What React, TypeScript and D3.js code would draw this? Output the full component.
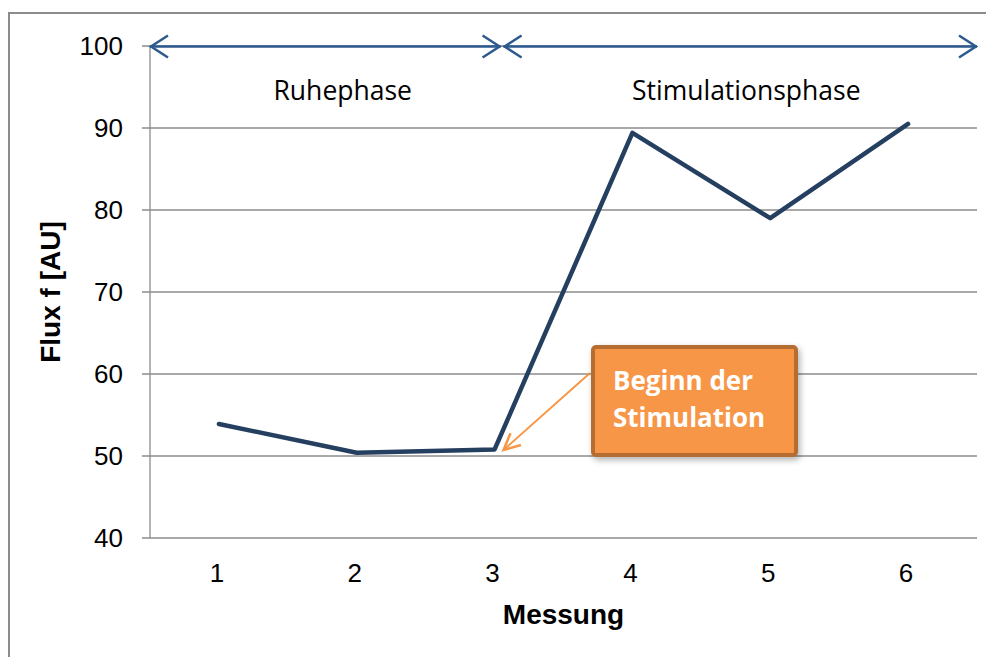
import React, { useEffect, useRef } from "react";
import * as d3 from "d3";

const categories = ["1", "2", "3", "4", "5", "6"];
const fluxValues = [53.9, 50.4, 50.8, 89.4, 79.0, 90.5];
const yTicks = [40, 50, 60, 70, 80, 90, 100];
const phases = [
  { label: "Ruhephase", from: 0, to: 2, labelAt: 1, labelShift: -14 },
  { label: "Stimulationsphase", from: 2, to: 5, labelAt: 4, labelShift: -24 },
];
const calloutLines = ["Beginn der", "Stimulation"];

const App = () => {
  const ref: any = useRef(null);
  const width = 986;
  const height = 657;
  const margin = { top: 46, right: 9, bottom: 119, left: 150 };

  useEffect(() => {
    const svg = d3.select(ref.current);
    svg.selectAll("*").remove();

    const x = d3
      .scaleBand()
      .domain(categories)
      .range([margin.left, width - margin.right]);
    const xc = (i: number) => (x(categories[i]) || 0) + x.bandwidth() / 2;
    const y = d3
      .scaleLinear()
      .domain([40, 100])
      .range([height - margin.bottom, margin.top]);

    const defs = svg.append("defs");
    const shadow = defs
      .append("filter")
      .attr("id", "shadow")
      .attr("x", "-20%")
      .attr("y", "-20%")
      .attr("width", "140%")
      .attr("height", "140%");
    shadow
      .append("feDropShadow")
      .attr("dx", 2)
      .attr("dy", 3)
      .attr("stdDeviation", 3)
      .attr("flood-color", "#000")
      .attr("flood-opacity", 0.3);

    // outer frame
    svg
      .append("rect")
      .attr("x", 9)
      .attr("y", 13)
      .attr("width", width + 20)
      .attr("height", height + 20)
      .attr("fill", "none")
      .attr("stroke", "#8c8c8c")
      .attr("stroke-width", 2);

    // gridlines
    svg
      .append("g")
      .selectAll("line")
      .data(yTicks)
      .join("line")
      .attr("x1", margin.left - 8)
      .attr("x2", width - margin.right)
      .attr("y1", (d) => y(d))
      .attr("y2", (d) => y(d))
      .attr("stroke", "#8c8c8c")
      .attr("stroke-width", 1.3);

    // y axis line
    svg
      .append("line")
      .attr("x1", margin.left)
      .attr("x2", margin.left)
      .attr("y1", y(100))
      .attr("y2", y(40))
      .attr("stroke", "#8c8c8c")
      .attr("stroke-width", 1.3);

    // y labels
    svg
      .append("g")
      .selectAll("text")
      .data(yTicks)
      .join("text")
      .attr("x", 123)
      .attr("y", (d) => y(d) + 9)
      .attr("text-anchor", "end")
      .attr("font-family", "Liberation Sans, Arial, sans-serif")
      .attr("font-size", 26)
      .attr("fill", "#000")
      .text((d) => d);

    // x labels
    svg
      .append("g")
      .selectAll("text")
      .data(categories)
      .join("text")
      .attr("x", (d) => (x(d) || 0) + x.bandwidth() / 2 - 2)
      .attr("y", 582)
      .attr("text-anchor", "middle")
      .attr("font-family", "Liberation Sans, Arial, sans-serif")
      .attr("font-size", 26)
      .attr("fill", "#000")
      .text((d) => d);

    // axis titles
    svg
      .append("text")
      .attr("x", (margin.left + width - margin.right) / 2)
      .attr("y", 624)
      .attr("text-anchor", "middle")
      .attr("font-family", "Liberation Sans, Arial, sans-serif")
      .attr("font-weight", "bold")
      .attr("font-size", 28)
      .text("Messung");

    svg
      .append("text")
      .attr("transform", `translate(60, ${(y(40) + y(100)) / 2}) rotate(-90)`)
      .attr("text-anchor", "middle")
      .attr("font-family", "Liberation Sans, Arial, sans-serif")
      .attr("font-weight", "bold")
      .attr("font-size", 28)
      .text("Flux f [AU]");

    // phase arrows
    const blue = "#2c5a8f";
    const phaseX = (p: any) => [
      p.from === 0 ? margin.left : xc(p.from) + 9,
      p.to === categories.length - 1 ? width - margin.right : xc(p.to) + 6,
    ];
    const ay = y(100) + 0.5;
    phases.forEach((p) => {
      const [x1, x2] = phaseX(p);
      const g = svg.append("g").attr("stroke", blue).attr("fill", "none").attr("stroke-width", 2.5);
      g.append("line").attr("x1", x1).attr("x2", x2).attr("y1", ay).attr("y2", ay);
      g.append("path").attr("d", `M${x1 + 18},${ay - 11}L${x1 + 1},${ay}L${x1 + 18},${ay + 11}`);
      g.append("path").attr("d", `M${x2 - 18},${ay - 11}L${x2 - 1},${ay}L${x2 - 18},${ay + 11}`);
      svg
        .append("text")
        .attr("x", xc(p.labelAt) + p.labelShift)
        .attr("y", 100)
        .attr("text-anchor", "middle")
        .attr("font-family", "Open Sans, sans-serif")
        .attr("font-size", 26.5)
        .attr("fill", "#000")
        .text(p.label);
    });

    // data line
    const line = d3
      .line<number>()
      .x((_, i) => xc(i))
      .y((d) => y(d));
    svg
      .append("path")
      .datum(fluxValues)
      .attr("d", line)
      .attr("fill", "none")
      .attr("stroke", "#243f60")
      .attr("stroke-width", 4.5)
      .attr("stroke-linejoin", "round")
      .attr("stroke-linecap", "round");

    // callout arrow
    const orange = "#f79646";
    const tipX = xc(2) + 9;
    const tipY = y(fluxValues[2]) + 0.5;
    const startX = 590;
    const startY = 373;
    const ang = Math.atan2(startY - tipY, startX - tipX);
    const hl = 18;
    const hw = 0.45;
    svg
      .append("line")
      .attr("x1", startX)
      .attr("y1", startY)
      .attr("x2", tipX)
      .attr("y2", tipY)
      .attr("stroke", orange)
      .attr("stroke-width", 2);
    svg
      .append("path")
      .attr(
        "d",
        `M${tipX + hl * Math.cos(ang - hw)},${tipY + hl * Math.sin(ang - hw)}L${tipX},${tipY}L${tipX + hl * Math.cos(ang + hw)},${tipY + hl * Math.sin(ang + hw)}`
      )
      .attr("fill", "none")
      .attr("stroke", orange)
      .attr("stroke-width", 2.5);

    // callout box
    const box = svg.append("g").attr("filter", "url(#shadow)");
    box
      .append("rect")
      .attr("x", 593)
      .attr("y", 347)
      .attr("width", 203)
      .attr("height", 108)
      .attr("rx", 3)
      .attr("fill", orange)
      .attr("stroke", "#b66d31")
      .attr("stroke-width", 4);
    svg
      .append("g")
      .selectAll("text")
      .data(calloutLines)
      .join("text")
      .attr("x", 613)
      .attr("y", (_, i) => 390 + i * 37)
      .attr("font-family", "Open Sans, sans-serif")
      .attr("font-weight", "bold")
      .attr("font-size", 26)
      .attr("fill", "#fff")
      .text((d) => d);
  }, []);

  return (
    <svg
      ref={ref}
      width={width}
      height={height}
      style={{ position: "absolute", left: 0, top: 0, background: "#fff" }}
    />
  );
};

export default App;
